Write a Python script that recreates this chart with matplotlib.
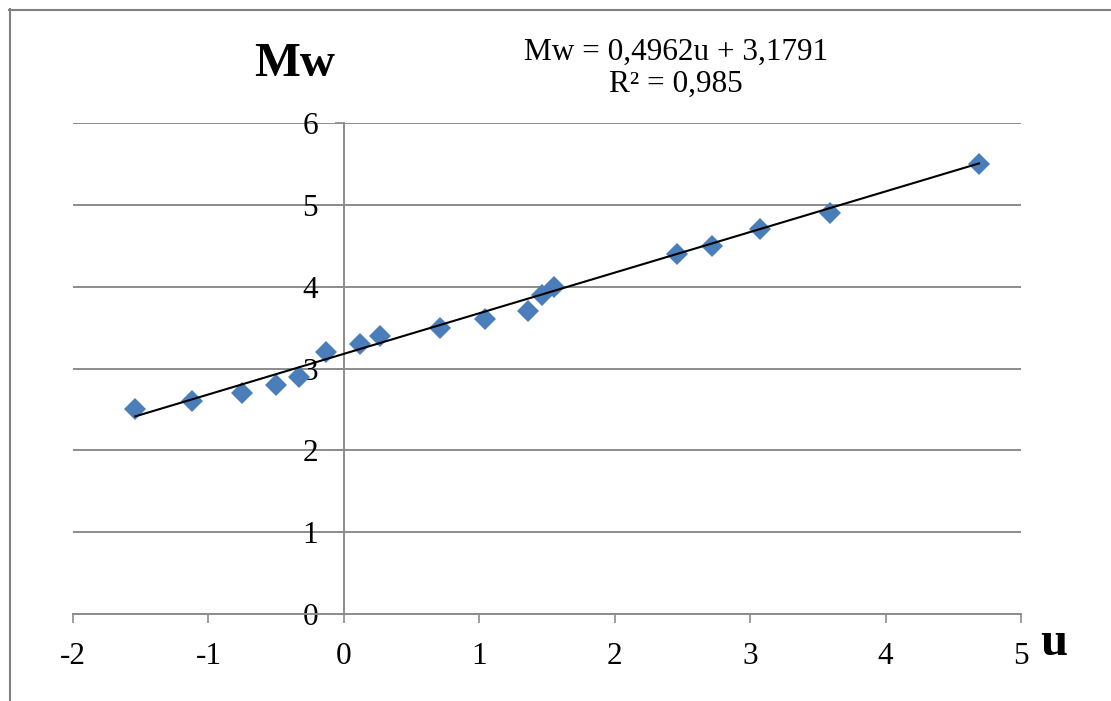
import numpy as np
import matplotlib
matplotlib.use('Agg')
from matplotlib import pyplot as plt
from matplotlib.lines import Line2D

plt.rcParams['font.family'] = ['Liberation Serif', 'DejaVu Serif']

# data
u = [-1.54, -1.12, -0.75, -0.50, -0.33, -0.13, 0.12, 0.27, 0.71, 1.04,
     1.36, 1.46, 1.55, 2.46, 2.72, 3.07, 3.59, 4.69]
mw = [2.5, 2.6, 2.7, 2.8, 2.9, 3.2, 3.3, 3.4, 3.5, 3.6,
      3.7, 3.9, 4.0, 4.4, 4.5, 4.7, 4.9, 5.5]
slope, intercept = 0.4962, 3.1791
r2 = 0.985
xticks = [-2, -1, 0, 1, 2, 3, 4, 5]
yticks = [0, 1, 2, 3, 4, 5, 6]

fig = plt.figure(figsize=(11.11, 7.01), dpi=100)
ax = fig.add_axes([73/1111, 87/701, 948/1111, 491/701])

ax.plot(u, mw, linestyle='none', marker='D', ms=11.5, mew=0,
        color='#4A7EBB', zorder=3)
xl = np.array([min(u), max(u)])
ax.plot(xl, slope*xl + intercept, color='black', lw=1.5, zorder=4)

ax.set_xlim(-2, 5)
ax.set_ylim(0, 6)
ax.set_xticks(xticks)
ax.set_yticks(yticks)
ax.set_xticklabels([str(t) for t in xticks])
ax.set_yticklabels([str(t) for t in yticks])

gray = '#8c8c8c'
ax.yaxis.grid(True, color=gray, lw=1.4)
ax.set_axisbelow(True)
for s in ['top', 'right']:
    ax.spines[s].set_visible(False)
ax.spines['left'].set_position(('data', 0))
ax.spines['left'].set_color(gray)
ax.spines['left'].set_linewidth(1.4)
ax.spines['bottom'].set_color(gray)
ax.spines['bottom'].set_linewidth(1.4)
fs = 22.5
ax.tick_params(axis='x', direction='out', length=6.5, width=1.2, color=gray,
               labelsize=fs, pad=14)
ax.tick_params(axis='y', direction='out', length=6.5, width=1.2, color=gray,
               labelsize=fs, pad=12)
for lab in ax.get_yticklabels():
    lab.set_zorder(5)

fig.text(295/1111, 1 - 64/701, 'Mw', fontsize=35, fontweight='bold',
         ha='center', va='center')
fig.text(1054/1111, 1 - 643/701, 'u', fontsize=35, fontweight='bold',
         ha='center', va='center')
fig.text(676/1111, 1 - 52/701,
         'Mw = %su + %s' % (str(slope).replace('.', ','), str(intercept).replace('.', ',')),
         fontsize=fs, ha='center', va='center')
fig.text(676/1111, 1 - 84/701, 'R² = %s' % str(r2).replace('.', ','),
         fontsize=fs, ha='center', va='center')

# outer chart frame (only top and left visible)
fig.add_artist(Line2D([9/1111, 1], [1 - 9.5/701, 1 - 9.5/701], color='#808080', lw=1.5))
fig.add_artist(Line2D([9.5/1111, 9.5/1111], [0, 1 - 9/701], color='#808080', lw=1.5))

fig.savefig('out.png', dpi=100)
